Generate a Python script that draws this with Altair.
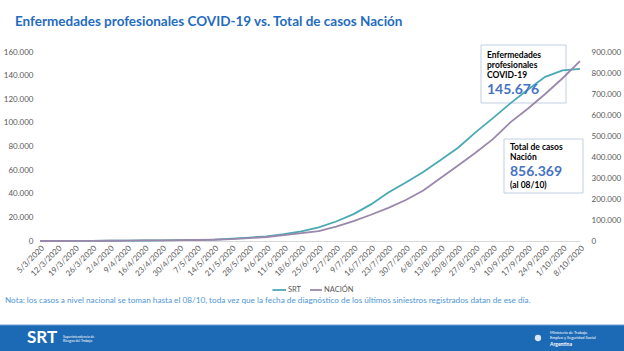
import altair as alt
import pandas as pd

# ---------------- data ----------------
fechas = ["5/3/2020", "12/3/2020", "19/3/2020", "26/3/2020", "2/4/2020", "9/4/2020",
          "16/4/2020", "23/4/2020", "30/4/2020", "7/5/2020", "14/5/2020", "21/5/2020",
          "28/5/2020", "4/6/2020", "11/6/2020", "18/6/2020", "25/6/2020", "2/7/2020",
          "9/7/2020", "16/7/2020", "23/7/2020", "30/7/2020", "6/8/2020", "13/8/2020",
          "20/8/2020", "27/8/2020", "3/9/2020", "10/9/2020", "17/9/2020", "24/9/2020",
          "1/10/2020", "8/10/2020"]
srt = [0, 30, 80, 150, 230, 320, 420, 550, 700, 900, 1200, 2000, 2900, 4000, 5800, 8200,
       11600, 16500, 22800, 31000, 41000, 49500, 58500, 68500, 79000, 92000, 104000,
       116500, 128000, 139000, 144500, 145676]
nacion = [0, 50, 200, 600, 1200, 1800, 2500, 3300, 4000, 4800, 6000, 9000, 14000, 19000,
          28000, 37000, 47000, 68000, 95000, 125000, 158000, 195000, 240000, 300000,
          360000, 420000, 485000, 565000, 630000, 700000, 775000, 856369]
ticks_izq = [0, 20000, 40000, 60000, 80000, 100000, 120000, 140000, 160000]
ticks_der = [0, 100000, 200000, 300000, 400000, 500000, 600000, 700000, 800000, 900000]

titulo = "Enfermedades profesionales COVID-19 vs. Total de casos Nación"
nota = ("Nota: los casos a nivel nacional se toman hasta el 08/10, toda vez que la fecha de "
        "diagnóstico de los últimos siniestros registrados datan de ese día.")

df = pd.DataFrame({"fecha": fechas, "SRT": srt, "NACION": nacion})

# ---------------- style ----------------
FONT = "Lato, Liberation Sans, sans-serif"
TEAL = "#4AA9B3"
PURPLE = "#9A88AC"
GREY = "#595959"
BLUE_NUM = "#4472C4"
W, H = 540, 189
fmt = "replace(format(datum.value, ','), ',', '.')"

x_enc = alt.X("fecha:O", sort=fechas, scale=alt.Scale(type="point", padding=0),
              axis=alt.Axis(title=None, labelAngle=-45, labelFontSize=8, labelColor=GREY,
                            labelFont=FONT, ticks=False, domainColor="#D9D9D9",
                            domainWidth=1, labelPadding=3, grid=False))

line_srt = alt.Chart(df).mark_line(color=TEAL, strokeWidth=1.8).encode(
    x=x_enc,
    y=alt.Y("SRT:Q", scale=alt.Scale(domain=[0, 160000], nice=False),
            axis=alt.Axis(title=None, values=ticks_izq, labelExpr=fmt, domain=False,
                          ticks=False, grid=False, labelPadding=7, labelFontSize=8,
                          labelColor=GREY, labelFont=FONT, orient="left")))

line_nac = alt.Chart(df).mark_line(color=PURPLE, strokeWidth=1.8).encode(
    x=x_enc,
    y=alt.Y("NACION:Q", scale=alt.Scale(domain=[0, 900000], nice=False),
            axis=alt.Axis(title=None, values=ticks_der, labelExpr=fmt, domain=False,
                          ticks=False, grid=False, labelPadding=11, labelFontSize=8,
                          labelColor=GREY, labelFont=FONT, orient="right")))


def one(s):
    return alt.Data(values=[{"t": s}])


def txt(s, x, y, size=8.5, color="black", weight="normal", align="left", font=FONT):
    return alt.Chart(one(s)).mark_text(align=align, baseline="middle", fontSize=size,
                                       color=color, fontWeight=weight, font=font).encode(
        x=alt.value(x), y=alt.value(y), text="t:N")


def box(x1, x2, y1, y2, fill="white", stroke="#C3CFE2", sw=1):
    return alt.Chart(one("")).mark_rect(fill=fill, stroke=stroke, strokeWidth=sw).encode(
        x=alt.value(x1), x2=alt.value(x2), y=alt.value(y1), y2=alt.value(y2))


def rule(x1, x2, y, color, sw=1.8):
    return alt.Chart(one("")).mark_rule(color=color, strokeWidth=sw).encode(
        x=alt.value(x1), x2=alt.value(x2), y=alt.value(y))


# origin of the plot area is at page (40, 52)
layers = [
    box(441, 526, -7, 51),
    box(464, 543, 87, 141),
    line_srt,
    line_nac,
    txt(titulo, -25, -30, size=13.5, color="#1F6CC0", weight="bold"),
    # annotation 1
    txt("Enfermedades", 447, 3, size=8.5, weight="bold"),
    txt("profesionales", 447, 13, size=8.5, weight="bold"),
    txt("COVID-19", 447, 22.5, size=8.5, weight="bold"),
    txt("145.676", 447, 38, size=14, weight="bold", color=BLUE_NUM),
    # annotation 2
    txt("Total de casos", 470, 94.5, size=8.5, weight="bold"),
    txt("Nación", 470, 105, size=8.5, weight="bold"),
    txt("856.369", 470, 119.5, size=14, weight="bold", color=BLUE_NUM),
    txt("(al 08/10)", 470, 133, size=8.5, weight="bold"),
    # legend
    rule(232.5, 246, 238, TEAL),
    txt("SRT", 248, 238, size=7.5, color=GREY),
    rule(270, 282, 238, PURPLE),
    txt("NACIÓN", 284, 238, size=7.5, color=GREY),
    # note
    txt(nota, -35, 249, size=8.2, color="#4F97D6"),
    # footer
    box(-40, 584, 273, 300, fill="#1C6AB5", stroke="#1C6AB5", sw=0),
    rule(-40, 584, 273, "#6C9ED6", sw=1),
    txt("SRT", -13, 285.5, size=17, color="white", weight="bold"),
    txt("Superintendencia de", 23, 285, size=3.5, color="white"),
    txt("Riesgos del Trabajo", 23, 289, size=3.5, color="white"),
    alt.Chart(one("")).mark_point(shape="circle", filled=True, color="#DCE6F2", size=40,
                                  opacity=1).encode(x=alt.value(498), y=alt.value(286)),
    txt("Ministerio de Trabajo,", 510, 281, size=4, color="white"),
    txt("Empleo y Seguridad Social", 510, 286, size=4, color="white"),
    txt("Argentina", 510, 291.5, size=5, color="white", weight="bold"),
]

chart = alt.layer(*layers).resolve_scale(y="independent").properties(
    width=W, height=H,
    padding={"left": 40, "top": 52, "right": 44, "bottom": 110},
    autosize=alt.AutoSizeParams(type="none"),
    background="white",
).configure_view(stroke=None)

chart.save("out.html", embed_options={"renderer": "svg", "actions": False})
